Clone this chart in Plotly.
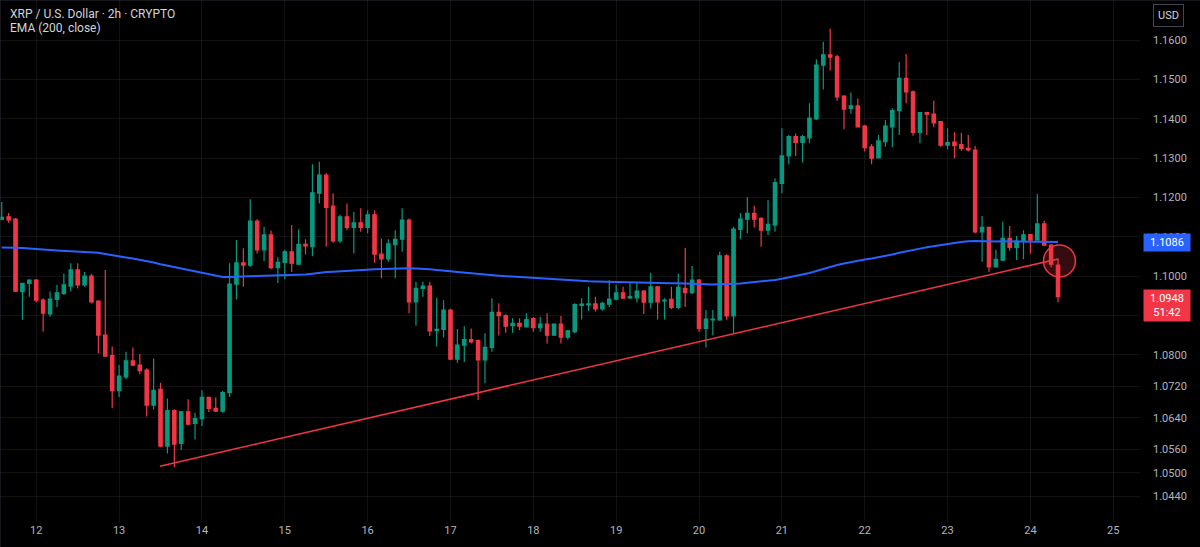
import plotly.graph_objects as go
import pandas as pd

# ---------------- data (XRP/USD, 2h candles) ----------------
first_candle = "2024-11-11 14:00"

opens = [
    1.1145, 1.1151, 1.1145, 1.0961, 1.0982, 1.0990, 1.0939, 1.0904, 1.0941, 1.0956,
    1.0975, 1.1016, 1.0978, 1.1000, 1.0937, 1.0850, 1.0798, 1.0709, 1.0744, 1.0785,
    1.0774, 1.0761, 1.0672, 1.0712, 1.0568, 1.0658, 1.0575, 1.0655, 1.0626, 1.0638,
    1.0692, 1.0664, 1.0657, 1.0704, 1.0980, 1.1034, 1.1028, 1.1140, 1.1067, 1.1105,
    1.1022, 1.1035, 1.1062, 1.1031, 1.1081, 1.1075, 1.1211, 1.1257, 1.1178, 1.1090,
    1.1151, 1.1124, 1.1136, 1.1124, 1.1156, 1.1056, 1.1044, 1.1080, 1.1094, 1.1143,
    1.0935, 1.0969, 1.0975, 1.0862, 1.0865, 1.0914, 1.0789, 1.0825, 1.0839, 1.0836,
    1.0787, 1.0819, 1.0908, 1.0900, 1.0874, 1.0880, 1.0871, 1.0892, 1.0869, 1.0878,
    1.0850, 1.0878, 1.0845, 1.0859, 1.0926, 1.0927, 1.0930, 1.0917, 1.0929, 1.0942,
    1.0958, 1.0945, 1.0945, 1.0962, 1.0934, 1.0973, 1.0937, 1.0941, 1.0921, 1.0969,
    1.0958, 1.0990, 1.0867, 1.0889, 1.0889, 1.1052, 1.0899, 1.1119, 1.1145, 1.1160,
    1.1147, 1.1117, 1.1130, 1.1236, 1.1306, 1.1355, 1.1340, 1.1352, 1.1400, 1.1537,
    1.1563, 1.1558, 1.1458, 1.1427, 1.1433, 1.1382, 1.1329, 1.1301, 1.1342, 1.1380,
    1.1421, 1.1503, 1.1469, 1.1366, 1.1416, 1.1412, 1.1393, 1.1333, 1.1341, 1.1335,
    1.1325, 1.1321, 1.1113, 1.1124, 1.1024, 1.1041, 1.1096, 1.1073, 1.1089, 1.1106,
    1.1092, 1.1133, 1.1079, 1.1028,
]
highs = [
    1.1189, 1.1161, 1.1148, 1.0983, 1.0992, 1.0993, 1.0944, 1.0961, 1.0978, 1.1007,
    1.1033, 1.1033, 1.1011, 1.1006, 1.0939, 1.1016, 1.0821, 1.0774, 1.0808, 1.0819,
    1.0802, 1.0766, 1.0791, 1.0729, 1.0689, 1.0662, 1.0657, 1.0687, 1.0653, 1.0710,
    1.0693, 1.0692, 1.0709, 1.1033, 1.1092, 1.1071, 1.1196, 1.1145, 1.1126, 1.1116,
    1.1048, 1.1067, 1.1130, 1.1119, 1.1094, 1.1285, 1.1291, 1.1262, 1.1211, 1.1156,
    1.1185, 1.1164, 1.1173, 1.1168, 1.1168, 1.1096, 1.1094, 1.1117, 1.1173, 1.1147,
    1.0986, 1.0986, 1.0986, 1.0945, 1.0939, 1.0917, 1.0866, 1.0873, 1.0867, 1.0839,
    1.0855, 1.0944, 1.0931, 1.0903, 1.0893, 1.0893, 1.0906, 1.0896, 1.0897, 1.0906,
    1.0880, 1.0899, 1.0863, 1.0931, 1.0944, 1.0973, 1.0948, 1.0935, 1.0990, 1.0978,
    1.0973, 1.0983, 1.0983, 1.0965, 1.1009, 1.0975, 1.0944, 1.0973, 1.1007, 1.1072,
    1.1026, 1.0993, 1.0914, 1.0914, 1.1062, 1.1056, 1.1126, 1.1161, 1.1201, 1.1179,
    1.1150, 1.1194, 1.1249, 1.1376, 1.1359, 1.1363, 1.1359, 1.1440, 1.1552, 1.1596,
    1.1630, 1.1563, 1.1460, 1.1467, 1.1452, 1.1385, 1.1336, 1.1359, 1.1397, 1.1427,
    1.1545, 1.1565, 1.1472, 1.1416, 1.1418, 1.1446, 1.1395, 1.1376, 1.1366, 1.1365,
    1.1359, 1.1331, 1.1153, 1.1126, 1.1067, 1.1139, 1.1128, 1.1102, 1.1117, 1.1108,
    1.1209, 1.1141, 1.1082, 1.1046,
]
lows = [
    1.1143, 1.1136, 1.0960, 1.0889, 1.0948, 1.0933, 1.0859, 1.0897, 1.0922, 1.0952,
    1.0961, 1.0969, 1.0973, 1.0931, 1.0804, 1.0795, 1.0664, 1.0693, 1.0738, 1.0771,
    1.0751, 1.0643, 1.0661, 1.0566, 1.0549, 1.0514, 1.0558, 1.0621, 1.0585, 1.0619,
    1.0655, 1.0655, 1.0653, 1.0693, 1.0941, 1.0973, 1.1024, 1.1058, 1.1039, 1.1018,
    1.0983, 1.0992, 1.1011, 1.1028, 1.1056, 1.1051, 1.1185, 1.1075, 1.1085, 1.1085,
    1.1117, 1.1058, 1.1113, 1.1109, 1.1034, 1.0995, 1.1037, 1.0995, 1.1062, 1.0906,
    1.0874, 1.0948, 1.0848, 1.0821, 1.0844, 1.0787, 1.0780, 1.0782, 1.0829, 1.0685,
    1.0728, 1.0808, 1.0849, 1.0856, 1.0856, 1.0863, 1.0870, 1.0859, 1.0859, 1.0829,
    1.0848, 1.0829, 1.0839, 1.0855, 1.0890, 1.0912, 1.0910, 1.0912, 1.0922, 1.0939,
    1.0944, 1.0942, 1.0933, 1.0904, 1.0918, 1.0890, 1.0890, 1.0916, 1.0916, 1.0922,
    1.0955, 1.0859, 1.0819, 1.0850, 1.0887, 1.0889, 1.0855, 1.1094, 1.1109, 1.1124,
    1.1075, 1.1105, 1.1113, 1.1211, 1.1285, 1.1306, 1.1289, 1.1338, 1.1397, 1.1475,
    1.1523, 1.1446, 1.1374, 1.1413, 1.1379, 1.1317, 1.1285, 1.1300, 1.1329, 1.1328,
    1.1359, 1.1440, 1.1357, 1.1338, 1.1359, 1.1379, 1.1329, 1.1322, 1.1300, 1.1319,
    1.1317, 1.1109, 1.1037, 1.1011, 1.1022, 1.1039, 1.1065, 1.1041, 1.1043, 1.1058,
    1.1090, 1.1077, 1.1023, 1.0934,
]
closes = [
    1.1150, 1.1143, 1.0962, 1.0982, 1.0990, 1.0939, 1.0906, 1.0942, 1.0958, 1.0978,
    1.1016, 1.0978, 1.1000, 1.0935, 1.0850, 1.0797, 1.0709, 1.0746, 1.0785, 1.0774,
    1.0760, 1.0672, 1.0710, 1.0568, 1.0658, 1.0573, 1.0655, 1.0624, 1.0638, 1.0692,
    1.0664, 1.0657, 1.0704, 1.0980, 1.1034, 1.1028, 1.1140, 1.1067, 1.1105, 1.1022,
    1.1035, 1.1062, 1.1033, 1.1081, 1.1077, 1.1212, 1.1257, 1.1175, 1.1090, 1.1151,
    1.1124, 1.1136, 1.1124, 1.1156, 1.1056, 1.1044, 1.1082, 1.1094, 1.1143, 1.0935,
    1.0969, 1.0975, 1.0861, 1.0865, 1.0914, 1.0789, 1.0825, 1.0839, 1.0833, 1.0787,
    1.0819, 1.0908, 1.0900, 1.0873, 1.0880, 1.0873, 1.0890, 1.0869, 1.0878, 1.0850,
    1.0878, 1.0845, 1.0861, 1.0928, 1.0929, 1.0930, 1.0917, 1.0931, 1.0942, 1.0958,
    1.0944, 1.0948, 1.0962, 1.0934, 1.0973, 1.0935, 1.0939, 1.0921, 1.0972, 1.0958,
    1.0990, 1.0867, 1.0891, 1.0891, 1.1052, 1.0899, 1.1120, 1.1145, 1.1160, 1.1145,
    1.1117, 1.1132, 1.1238, 1.1306, 1.1355, 1.1340, 1.1355, 1.1402, 1.1537, 1.1563,
    1.1557, 1.1456, 1.1425, 1.1433, 1.1380, 1.1327, 1.1300, 1.1344, 1.1382, 1.1421,
    1.1503, 1.1469, 1.1366, 1.1416, 1.1412, 1.1390, 1.1333, 1.1340, 1.1332, 1.1325,
    1.1321, 1.1113, 1.1124, 1.1024, 1.1043, 1.1096, 1.1073, 1.1089, 1.1105, 1.1092,
    1.1133, 1.1079, 1.1031, 1.0948,
]

ema_length = 200
ema_seed = 1.1073          # EMA value at the first visible candle

trend_times = ["2024-11-13 11:50", "2024-11-24 08:00"]
trend_prices = [1.0517, 1.1044]

circle_time = "2024-11-24 08:25"
circle_price = 1.1039

day_ticks = list(range(12, 26))
price_ticks = [1.16, 1.15, 1.14, 1.13, 1.12, 1.11, 1.10, 1.09, 1.08,
               1.072, 1.064, 1.056, 1.05, 1.044]
ema_label = "1.1086"
last_label = "1.0948"
countdown = "51:42"

title_line1 = "XRP / U.S. Dollar · 2h · CRYPTO"
title_line2 = "EMA (200, close)"

# ---------------- styling ----------------
GREEN = "#089981"
RED = "#F23645"
BLUE = "#2962FF"
BG = "#000000"
GRID = "rgba(255,255,255,0.07)"
TXT = "#b2b5be"
FONT = "Roboto, 'Noto Sans', Arial, sans-serif"

times = pd.date_range(first_candle, periods=len(closes), freq="2h")

# EMA(200, close)
alpha = 2.0 / (ema_length + 1)
ema = [ema_seed]
for c in closes[1:]:
    ema.append(ema[-1] + alpha * (c - ema[-1]))

fig = go.Figure()

fig.add_trace(go.Candlestick(
    x=times, open=opens, high=highs, low=lows, close=closes,
    increasing=dict(line=dict(color=GREEN, width=1.2), fillcolor=GREEN),
    decreasing=dict(line=dict(color=RED, width=1.2), fillcolor=RED),
    whiskerwidth=0, showlegend=False, hoverinfo="skip",
))

fig.add_trace(go.Scatter(
    x=times, y=ema, mode="lines",
    line=dict(color=BLUE, width=2), showlegend=False, hoverinfo="skip",
))

fig.add_trace(go.Scatter(
    x=pd.to_datetime(trend_times), y=trend_prices, mode="lines",
    line=dict(color=RED, width=1.5), showlegend=False, hoverinfo="skip",
))

# highlighted breakdown circle
fig.add_shape(
    type="circle", xref="x", yref="y",
    xsizemode="pixel", ysizemode="pixel",
    xanchor=pd.Timestamp(circle_time), yanchor=circle_price,
    x0=-16, x1=16, y0=-16, y1=16,
    line=dict(color=RED, width=1.5), fillcolor="rgba(242,54,69,0.22)",
)

# thin frame at the top and left edge of the chart window
fig.add_shape(type="line", xref="paper", yref="paper", x0=0, x1=1200 / 1140,
              y0=1, y1=1, line=dict(color="#2a2e39", width=1))
fig.add_shape(type="line", xref="paper", yref="paper", x0=0, x1=0,
              y0=-25 / 522, y1=1, line=dict(color="#2a2e39", width=1))

tick_dates = [pd.Timestamp(2024, 11, d) for d in day_ticks]
tick_text = [str(d) for d in day_ticks]

fig.update_layout(
    width=1200, height=547,
    paper_bgcolor=BG, plot_bgcolor=BG,
    margin=dict(l=0, r=60, t=0, b=25),
    font=dict(family=FONT, color=TXT, size=11),
    showlegend=False,
    xaxis=dict(
        range=[pd.Timestamp("2024-11-11 13:30"), pd.Timestamp("2024-11-25 07:45")],
        rangeslider=dict(visible=False),
        tickmode="array", tickvals=tick_dates, ticktext=tick_text,
        showgrid=True, gridcolor=GRID, gridwidth=1,
        zeroline=False, showline=False, ticks="",
        tickfont=dict(color=TXT, size=11),
    ),
    yaxis=dict(
        side="right",
        range=[1.0375, 1.17024],
        tickmode="array", tickvals=price_ticks,
        ticktext=[f"{v:.4f}" for v in price_ticks],
        showgrid=True, gridcolor=GRID, gridwidth=1,
        zeroline=False, showline=False, ticks="",
        ticklabelstandoff=12,
        tickfont=dict(color=TXT, size=11),
    ),
)

annotations = [
    dict(text=title_line1, xref="paper", yref="paper", x=8 / 1140, y=1 - 14 / 522,
         xanchor="left", yanchor="middle", showarrow=False,
         font=dict(color="#d1d4dc", size=12, family=FONT)),
    dict(text=title_line2, xref="paper", yref="paper", x=8 / 1140, y=1 - 28 / 522,
         xanchor="left", yanchor="middle", showarrow=False,
         font=dict(color="#d1d4dc", size=12, family=FONT)),
    dict(text="USD", xref="paper", yref="paper", x=1168 / 1140, y=1 - 15 / 522,
         xanchor="center", yanchor="middle", showarrow=False,
         font=dict(color="#d1d4dc", size=11, family=FONT),
         bgcolor=BG, bordercolor="#434651", borderwidth=1, borderpad=4),
    dict(text=ema_label, xref="paper", yref="y", x=1, y=float(ema_label),
         xanchor="left", yanchor="middle", xshift=3, showarrow=False,
         font=dict(color="#ffffff", size=11, family=FONT),
         bgcolor=BLUE, borderpad=2, width=42),
    dict(text=f"{last_label}<br>{countdown}", xref="paper", yref="y", x=1,
         y=float(last_label), xanchor="left", yanchor="top", yshift=8, xshift=3,
         showarrow=False, align="center",
         font=dict(color="#ffffff", size=11, family=FONT),
         bgcolor=RED, borderpad=2, width=42),
]
fig.update_layout(annotations=annotations)

fig.write_html("out.html")
